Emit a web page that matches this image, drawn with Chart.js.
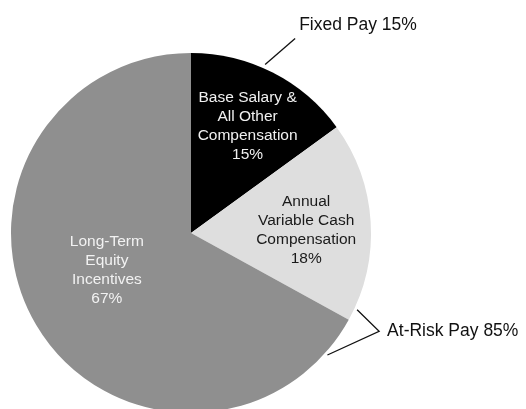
<!DOCTYPE html>
<html>
<head>
<meta charset="utf-8">
<script src="https://cdn.jsdelivr.net/npm/chart.js@4/dist/chart.umd.min.js"></script>
<style>
 html, body { margin: 0; padding: 0; background: #fff; overflow: hidden; }
 #wrap { position: relative; width: 526px; height: 420px; }
</style>
</head>
<body>
<div id="wrap"><canvas id="payChart"></canvas></div>
<script>
var categories = [
 ["Base Salary &", "All Other", "Compensation"],
 ["Annual", "Variable Cash", "Compensation"],
 ["Long-Term", "Equity", "Incentives"],
];
var shares = [15, 18, 67];
var groupLabels = ["Fixed Pay 15%", "At-Risk Pay 85%"];

var sliceColors = ["#000000", "#dedede", "#8f8f8f"];
var textColors = ["#f0f0f0", "#1a1a1a", "#f2f2f2"];
// where each label sits: fraction of radius, angle nudge in degrees
var labelPlace = [
 { f: 0.67, da: 1 },
 { f: 0.64, da: 2 },
 { f: 0.51, da: 7 },
];

var fontFamily = "'Liberation Sans', Arial, Helvetica, sans-serif";

function pointAt(cx, cy, r, angle) {
 return { x: cx + Math.cos(angle) * r, y: cy + Math.sin(angle) * r };
}

var sliceLabels = {
 id: "sliceLabels",
 afterDatasetsDraw: function (chart) {
  var ctx = chart.ctx;
  var meta = chart.getDatasetMeta(0);
  ctx.save();
  ctx.font = "15.5px " + fontFamily;
  ctx.textAlign = "center";
  ctx.textBaseline = "middle";
  meta.data.forEach(function (arc, i) {
   var p = arc.getProps(["x", "y", "startAngle", "endAngle", "outerRadius"], true);
   var mid = (p.startAngle + p.endAngle) / 2 + (labelPlace[i].da * Math.PI) / 180;
   var c = pointAt(p.x, p.y, p.outerRadius * labelPlace[i].f, mid);
   var lines = categories[i].concat([shares[i] + "%"]);
   var lh = 19;
   var top = c.y - ((lines.length - 1) * lh) / 2;
   ctx.fillStyle = textColors[i];
   lines.forEach(function (line, k) {
    ctx.fillText(line, c.x, top + k * lh);
   });
  });

  // outside group labels with leader lines
  var first = meta.data[0].getProps(["x", "y", "startAngle", "endAngle", "outerRadius"], true);
  var cx = first.x, cy = first.y, r = first.outerRadius;
  ctx.strokeStyle = "#111";
  ctx.lineWidth = 1.3;
  ctx.fillStyle = "#111";
  ctx.font = "17.5px " + fontFamily;
  ctx.textAlign = "left";

  // Fixed pay: leader from the black slice
  var a1 = first.startAngle + (first.endAngle - first.startAngle) * 0.44;
  var s1 = pointAt(cx, cy, r + 4, a1);
  var e1 = { x: s1.x + 30, y: s1.y - 26 };
  ctx.beginPath();
  ctx.moveTo(s1.x, s1.y);
  ctx.lineTo(e1.x, e1.y);
  ctx.stroke();
  ctx.fillText(groupLabels[0], e1.x + 4, e1.y - 13);

  // At-risk pay: bracket near the light/dark gray edge
  var second = meta.data[1].getProps(["endAngle"], true);
  var b = second.endAngle;
  var pTop = pointAt(cx, cy, r + 3, b - (4 * Math.PI) / 180);
  var pBot = pointAt(cx, cy, r + 3, b + (13 * Math.PI) / 180);
  var tip = { x: pTop.x + 22, y: (pTop.y + pBot.y) / 2 - 1 };
  ctx.beginPath();
  ctx.moveTo(pTop.x, pTop.y);
  ctx.lineTo(tip.x, tip.y);
  ctx.lineTo(pBot.x, pBot.y);
  ctx.stroke();
  ctx.fillText(groupLabels[1], tip.x + 8, tip.y);
  ctx.restore();
 },
};

new Chart(document.getElementById("payChart"), {
 type: "pie",
 data: {
  labels: categories.map(function (c) { return c.join(" "); }),
  datasets: [
   {
    data: shares,
    backgroundColor: sliceColors,
    borderWidth: 0,
   },
  ],
 },
 options: {
  responsive: true,
  maintainAspectRatio: false,
  animation: false,
  layout: {
   padding: { top: 53, left: 11, right: 155, bottom: 7 },
  },
  plugins: {
   legend: { display: false },
   tooltip: { enabled: false },
  },
 },
 plugins: [sliceLabels],
});
</script>
</body>
</html>
